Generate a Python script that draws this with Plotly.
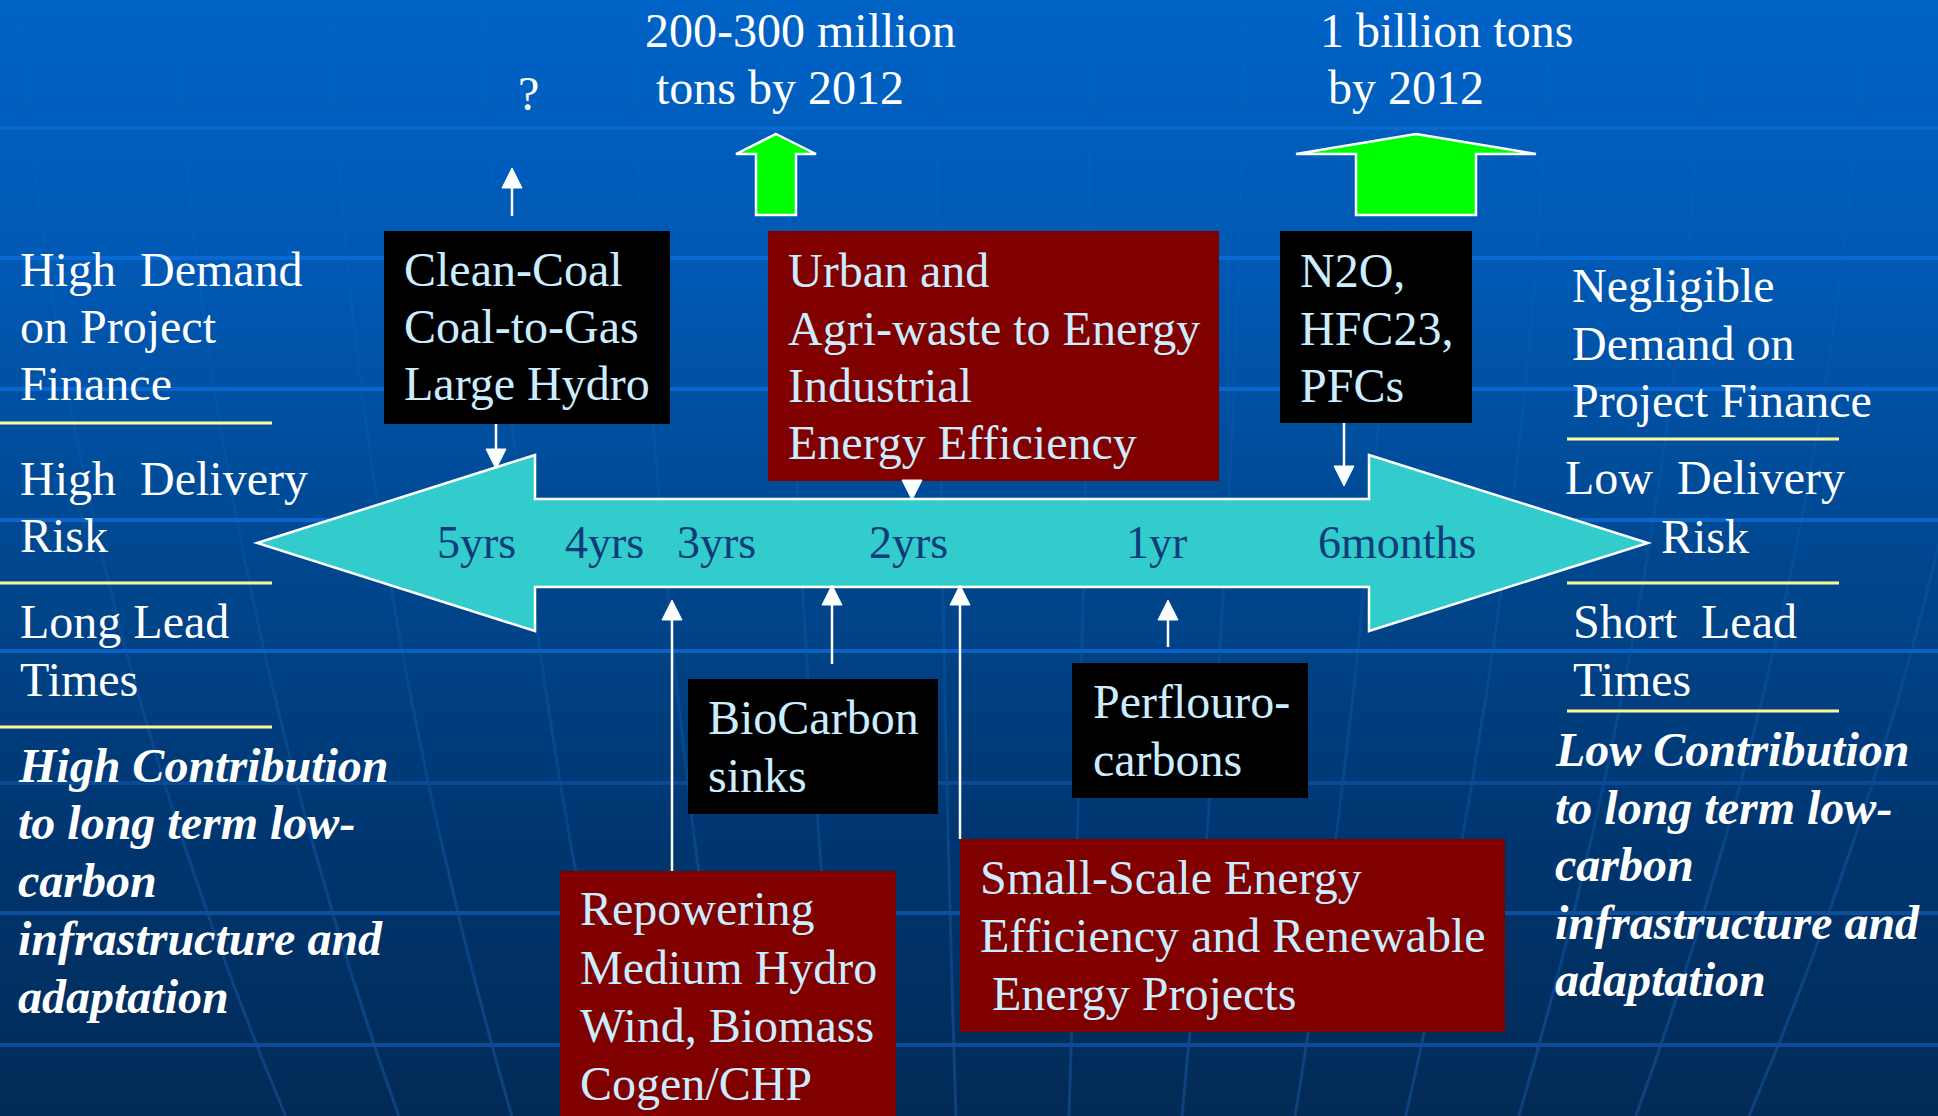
import numpy as np
import plotly.graph_objects as go

W, H = 1938, 1116
FONT = "Liberation Serif, Times New Roman, serif"

# ---------------- content ----------------
timeline_labels = ["5yrs", "4yrs", "3yrs", "2yrs", "1yr", "6months"]

top_notes = ["200-300 million", "tons by 2012", "?", "1 billion tons", "by 2012"]

box_clean_coal = ["Clean-Coal", "Coal-to-Gas", "Large Hydro"]
box_urban = ["Urban and", "Agri-waste to Energy", "Industrial", "Energy Efficiency"]
box_gases = ["N2O,", "HFC23,", "PFCs"]
box_biocarbon = ["BioCarbon", "sinks"]
box_pfc = ["Perflouro-", "carbons"]
box_repowering = ["Repowering", "Medium Hydro", "Wind, Biomass", "Cogen/CHP"]
box_small_scale = ["Small-Scale Energy", "Efficiency and Renewable", "\u00a0Energy Projects"]

left_labels = ["High\u00a0 Demand", "on Project", "Finance",
               "High\u00a0 Delivery", "Risk", "Long Lead", "Times"]
left_note = ["High Contribution", "to long term low-", "carbon",
             "infrastructure and", "adaptation"]
right_labels = ["Negligible", "Demand on", "Project Finance",
                "Low\u00a0 Delivery", "Risk", "Short\u00a0 Lead", "Times"]
right_note = ["Low Contribution", "to long term low-", "carbon",
              "infrastructure and", "adaptation"]

# ---------------- layout geometry (pixels, y downward) ----------------
timeline_x = [476, 604, 716, 908, 1156, 1397]
timeline_base = 558

top_x = [645, 656, 518, 1320, 1328]
top_base = [47, 104, 110, 47, 104]

boxes = [
    # (lines, x0, y0, x1, y1, fill, text_left, baselines)
    (box_clean_coal, 384, 231, 670, 424, "#000000", 404, [286, 343, 400]),
    (box_urban, 768, 231, 1219, 481, "#800000", 788, [287, 345, 402, 459]),
    (box_gases, 1280, 231, 1472, 423, "#000000", 1300, [287, 345, 402]),
    (box_biocarbon, 688, 679, 938, 814, "#000000", 708, [734, 792]),
    (box_pfc, 1072, 663, 1308, 798, "#000000", 1093, [718, 776]),
    (box_repowering, 560, 871, 896, 1120, "#800000", 580, [925, 984, 1042, 1100]),
    (box_small_scale, 960, 839, 1505, 1032, "#800000", 980, [894, 952, 1010]),
]

left_x, left_base = 20, [286, 343, 400, 495, 552, 638, 696]
left_note_x, left_note_base = 18, [782, 839, 897, 955, 1013]
right_x = [1572, 1572, 1572, 1565, 1661, 1573, 1573]
right_base = [302, 360, 417, 494, 553, 638, 696]
right_note_x, right_note_base = 1555, [766, 824, 881, 939, 996]

yellow_left = [423, 583, 727]
yellow_right = [439, 583, 711]

# thin white pointer arrows: (x, tail_y, tip_y)
pointers = [(512, 216, 168), (496, 424, 469), (912, 481, 500), (1344, 423, 486),
            (672, 871, 600), (832, 664, 585), (960, 839, 585), (1168, 647, 600)]

# green "volume" arrows: (tip_x, tip_y, head_base_y, head_x0, head_x1, shaft_x0, shaft_x1, bottom)
green_arrows = [(776, 134, 154, 736, 816, 756, 796, 215),
                (1416, 134, 154, 1296, 1536, 1356, 1476, 215)]

# double-headed timeline arrow
tl_tip_l, tl_tip_r, tl_neck_l, tl_neck_r = 257, 1648, 535, 1369
tl_head_top, tl_head_bot, tl_shaft_top, tl_shaft_bot, tl_mid = 455, 631, 499, 587, 543

grid_y = [128, 258, 389, 520, 651, 783, 913, 1045]
grid_col = ["#0A68D2", "#0A68D2", "#0A66CE", "#0A64CA", "#0A60C4",
            "#0A4A92", "#0B4F9E", "#0B4C98"]
meridian_x = [113, 253, 393, 533, 668, 803, 943, 1083, 1223, 1363, 1500, 1640, 1785, 1925]

fig = go.Figure()

# background gradient
ys = np.linspace(0, H, 60)
fig.add_trace(go.Heatmap(
    x=[0, W], y=ys, z=[[v, v] for v in ys], zsmooth="best", showscale=False,
    colorscale=[[0.0, "#0063C6"], [0.25, "#0058B2"], [0.5, "#00478F"],
                [0.75, "#003670"], [1.0, "#022A56"]],
    zmin=0, zmax=H, hoverinfo="skip"))

# globe meridians, fading out towards the top
seg_edges = np.linspace(0, H, 9)
for x6 in meridian_x:
    c = 1010
    for k in range(len(seg_edges) - 1):
        yy = np.linspace(seg_edges[k], seg_edges[k + 1], 12)
        t = (yy - 600) / 1000
        g = 1 - 0.28 * t - 0.18 * t * t
        alpha = 0.04 + 0.26 * (k / (len(seg_edges) - 2)) ** 1.3
        fig.add_trace(go.Scatter(x=c + (x6 - c) * g, y=yy, mode="lines",
                                 line=dict(color=f"rgba(40,120,215,{alpha:.3f})", width=3),
                                 hoverinfo="skip", showlegend=False))

# horizontal grid bands
for gy, gc in zip(grid_y, grid_col):
    fig.add_trace(go.Scatter(x=[0, W], y=[gy, gy], mode="lines",
                             line=dict(color=gc, width=4),
                             hoverinfo="skip", showlegend=False))

shapes = []

# yellow separators
for yv in yellow_left:
    shapes.append(dict(type="line", x0=0, x1=272, y0=yv, y1=yv,
                       line=dict(color="#FFFF99", width=3)))
for yv in yellow_right:
    shapes.append(dict(type="line", x0=1567, x1=1839, y0=yv, y1=yv,
                       line=dict(color="#FFFF99", width=3)))

# timeline arrow
pts = [(tl_tip_l, tl_mid), (tl_neck_l, tl_head_top), (tl_neck_l, tl_shaft_top),
       (tl_neck_r, tl_shaft_top), (tl_neck_r, tl_head_top), (tl_tip_r, tl_mid),
       (tl_neck_r, tl_head_bot), (tl_neck_r, tl_shaft_bot), (tl_neck_l, tl_shaft_bot),
       (tl_neck_l, tl_head_bot)]
path = "M " + " L ".join(f"{x},{y}" for x, y in pts) + " Z"
shapes.append(dict(type="path", path=path, fillcolor="#33CCCC",
                   line=dict(color="#FFFFFF", width=2.5)))

# green arrows
for tx, ty, hb, hx0, hx1, sx0, sx1, bot in green_arrows:
    p = [(tx, ty), (hx1, hb), (sx1, hb), (sx1, bot), (sx0, bot), (sx0, hb), (hx0, hb)]
    shapes.append(dict(type="path",
                       path="M " + " L ".join(f"{x},{y}" for x, y in p) + " Z",
                       fillcolor="#00FF00", line=dict(color="#FFFFFF", width=2.5)))

# boxes
for lines, x0, y0, x1, y1, fill, tl, bases in boxes:
    shapes.append(dict(type="rect", x0=x0, x1=x1, y0=y0, y1=y1,
                       fillcolor=fill, line=dict(width=0)))

# pointer arrows
for x, tail, tip in pointers:
    d = 1 if tip > tail else -1
    hb = tip - d * 20
    shapes.append(dict(type="line", x0=x, x1=x, y0=tail, y1=hb,
                       line=dict(color="#FFFFFF", width=2.5)))
    shapes.append(dict(type="path",
                       path=f"M {x - 10},{hb} L {x + 10},{hb} L {x},{tip} Z",
                       fillcolor="#FFFFFF", line=dict(color="#FFFFFF", width=1)))

annotations = []


def add_text(txt, x, base, size=48, color="#FFFFFF", anchor="left"):
    annotations.append(dict(
        x=x, y=base - 0.3375 * size, xref="x", yref="y", text=txt,
        showarrow=False, xanchor=anchor, yanchor="middle",
        borderpad=0, borderwidth=0,
        font=dict(family=FONT, size=size, color=color)))


for txt, x, b in zip(top_notes, top_x, top_base):
    add_text(txt, x, b)

for lines, x0, y0, x1, y1, fill, tl, bases in boxes:
    for txt, b in zip(lines, bases):
        add_text(txt, tl, b, color="#CCECFF")

for txt, b in zip(left_labels, left_base):
    add_text(txt, left_x, b)
for txt, b in zip(left_note, left_note_base):
    add_text(f"<b><i>{txt}</i></b>", left_note_x, b)
for txt, x, b in zip(right_labels, right_x, right_base):
    add_text(txt, x, b)
for txt, b in zip(right_note, right_note_base):
    add_text(f"<b><i>{txt}</i></b>", right_note_x, b)

for txt, x in zip(timeline_labels, timeline_x):
    add_text(txt, x, timeline_base, size=46, color="#0E3C7A", anchor="center")

fig.update_layout(
    width=W, height=H, margin=dict(l=0, r=0, t=0, b=0),
    paper_bgcolor="#00478F", plot_bgcolor="#00478F",
    showlegend=False, shapes=shapes, annotations=annotations,
    xaxis=dict(range=[0, W], visible=False, fixedrange=True),
    yaxis=dict(range=[H, 0], visible=False, fixedrange=True),
)

fig.write_html("out.html", config={"displayModeBar": False})
